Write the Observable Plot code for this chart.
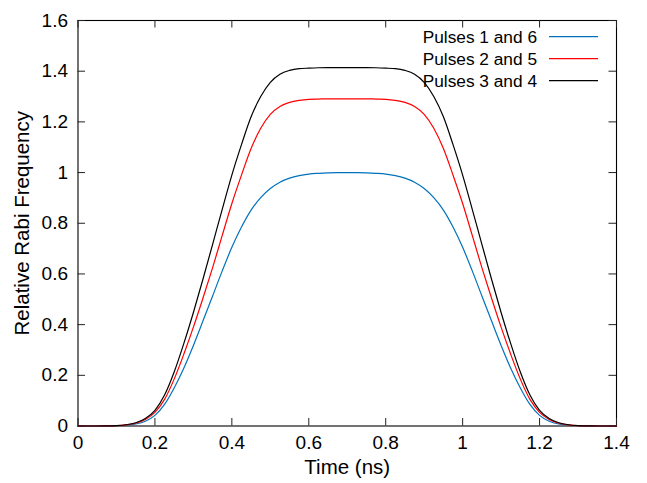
<!DOCTYPE html>
<html><head><meta charset="utf-8">
<script src="https://cdn.jsdelivr.net/npm/d3@7"></script>
<script src="https://cdn.jsdelivr.net/npm/@observablehq/plot@0.6"></script>
<style>
body{margin:0;background:#fff}
#chart{position:relative;width:647px;height:483px}
#legend{position:absolute;left:0;top:0;pointer-events:none}
</style></head><body><div id="chart"></div>
<script>
const time = [0,0.025,0.05,0.075,0.1,0.125,0.15,0.175,0.2,0.225,0.25,0.275,0.3,0.325,0.35,0.375,0.4,0.425,0.45,0.475,0.5,0.525,0.55,0.575,0.6,0.625,0.65,0.675,0.7,0.725,0.75,0.775,0.8,0.825,0.85,0.875,0.9,0.925,0.95,0.975,1.0,1.025,1.05,1.075,1.1,1.125,1.15,1.175,1.2,1.225,1.25,1.275,1.3,1.325,1.35,1.375,1.4];
const pulses16 = [0,0,0,0.0002,0.0009,0.003,0.008,0.019,0.042,0.085,0.15,0.228,0.318,0.415,0.513,0.612,0.705,0.785,0.852,0.901,0.937,0.962,0.978,0.988,0.994,0.997,0.999,1,1,
  1,0.999,0.997,0.994,0.988,0.978,0.962,0.937,0.901,0.852,0.785,0.705,0.612,0.513,0.415,0.318,0.228,0.15,0.085,0.042,0.019,0.008,0.003,0.0009,0.0002,0,0,0];
const pulses25 = [0,0,0,0.0003,0.0013,0.0043,0.011,0.026,0.054,0.105,0.185,0.283,0.39,0.505,0.625,0.752,0.878,0.99,1.095,1.175,1.23,1.261,1.277,1.285,1.289,1.29,1.291,1.291,1.291,
  1.291,1.291,1.29,1.289,1.285,1.277,1.261,1.23,1.175,1.095,0.99,0.878,0.752,0.625,0.505,0.39,0.283,0.185,0.105,0.054,0.026,0.011,0.0043,0.0013,0.0003,0,0,0];
const pulses34 = [0,0,0,0.0003,0.0015,0.005,0.013,0.03,0.062,0.122,0.213,0.325,0.448,0.58,0.717,0.855,0.99,1.11,1.22,1.3,1.356,1.388,1.403,1.41,1.412,1.4135,1.414,1.414,1.414,
  1.414,1.414,1.4135,1.412,1.41,1.403,1.388,1.356,1.3,1.22,1.11,0.99,0.855,0.717,0.58,0.448,0.325,0.213,0.122,0.062,0.03,0.013,0.005,0.0015,0.0003,0,0,0];
const seriesNames = ["Pulses 1 and 6","Pulses 2 and 5","Pulses 3 and 4"];
const seriesColors = ["#0072bd","#ff0000","#000000"];
const xTicks = [0,0.2,0.4,0.6,0.8,1,1.2,1.4];
const yTicks = [0,0.2,0.4,0.6,0.8,1,1.2,1.4,1.6];
const xLabel = "Time (ns)";
const yLabel = "Relative Rabi Frequency";

const W = 647, H = 483, ML = 77.5, MR = 31, MT = 20, MB = 57.5;
const PW = W - ML - MR, PH = H - MT - MB, TL = 7.5;
const seriesValues = [pulses16, pulses25, pulses34];
const data = seriesNames.flatMap((s, k) => time.map((t, i) => ({t, v: seriesValues[k][i], s})));
const font = "'Liberation Sans', Arial, Helvetica, sans-serif";

const chart = Plot.plot({
  width: W, height: H, marginLeft: ML, marginRight: MR, marginTop: MT, marginBottom: MB,
  style: {fontFamily: font, fontSize: "19px", background: "white", color: "black", overflow: "visible"},
  x: {domain: [0, 1.4]},
  y: {domain: [0, 1.6]},
  color: {domain: seriesNames, range: seriesColors},
  marks: [
    Plot.frame({stroke: "black", strokeWidth: 1.1}),
    Plot.tickX(xTicks, {x: d => d, insetTop: PH - TL, stroke: "#222", strokeWidth: 1}),
    Plot.tickX(xTicks, {x: d => d, insetBottom: PH - TL, stroke: "#222", strokeWidth: 1}),
    Plot.tickY(yTicks, {y: d => d, insetRight: PW - TL, stroke: "#222", strokeWidth: 1}),
    Plot.tickY(yTicks, {y: d => d, insetLeft: PW - TL, stroke: "#222", strokeWidth: 1}),
    Plot.line(data, {x: "t", y: "v", z: "s", stroke: "s", strokeWidth: 1.2, curve: "monotone-x"}),
    Plot.axisX(xTicks, {tickSize: 0, tickPadding: 9, tickFormat: d => String(d), label: null, fontSize: 19}),
    Plot.axisY(yTicks, {tickSize: 0, tickPadding: 10, tickFormat: d => String(d), label: null, fontSize: 19}),
    Plot.text([xLabel], {frameAnchor: "bottom", lineAnchor: "middle", dy: 41, text: d => d, fontSize: 20.5}),
    Plot.text([yLabel], {frameAnchor: "left", textAnchor: "middle", lineAnchor: "middle", dx: -55.5, rotate: -90, text: d => d, fontSize: 20.5})
  ]
});
document.getElementById("chart").appendChild(chart);

// legend (top-right, inside frame)
const ns = "http://www.w3.org/2000/svg";
const lg = document.createElementNS(ns, "svg");
lg.setAttribute("id", "legend");
lg.setAttribute("width", W); lg.setAttribute("height", H);
seriesNames.forEach((name, k) => {
  const y = 36.7 + k * 22;
  const t = document.createElementNS(ns, "text");
  t.setAttribute("x", 537); t.setAttribute("y", y);
  t.setAttribute("text-anchor", "end");
  t.setAttribute("dominant-baseline", "central");
  t.setAttribute("font-family", font);
  t.setAttribute("font-size", "17.3");
  t.textContent = name;
  lg.appendChild(t);
  const l = document.createElementNS(ns, "line");
  l.setAttribute("x1", 549); l.setAttribute("x2", 598);
  l.setAttribute("y1", y); l.setAttribute("y2", y);
  l.setAttribute("stroke", seriesColors[k]);
  l.setAttribute("stroke-width", 1.2);
  lg.appendChild(l);
});
document.getElementById("chart").appendChild(lg);
</script></body></html>
